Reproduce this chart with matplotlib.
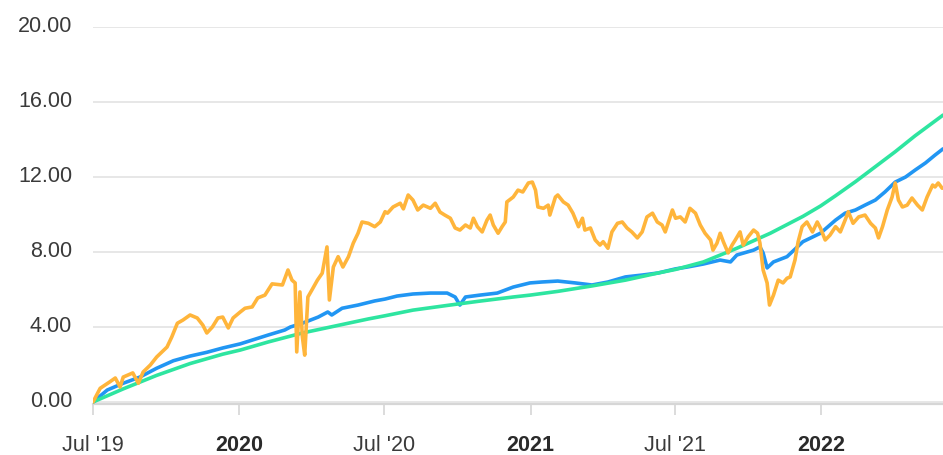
import matplotlib
matplotlib.use("Agg")
import matplotlib.pyplot as plt
import matplotlib.transforms as mtransforms
import pandas as pd

# ---------------- data (days since 2019-07-01, values) ----------------
start = pd.Timestamp("2019-07-01")

orange_days = [0, 9, 21, 28, 34, 38, 50, 57, 63, 72, 80, 93, 99, 106, 113, 122, 131, 138, 143, 150,
               157, 163, 170, 176, 185, 191, 200, 207, 216, 225, 238, 245, 250, 254, 256, 260, 263, 266,
               270, 275, 282, 288, 294, 297, 302, 308, 314, 321, 327, 333, 338, 346, 354, 361, 367, 370,
               377, 386, 390, 396, 402, 408, 415, 424, 430, 436, 442, 449, 455, 461, 468, 474, 478, 483,
               489, 495, 499, 503, 509, 514, 518, 520, 528, 534, 540, 547, 552, 556, 559, 566, 572, 574,
               581, 584, 591, 597, 603, 610, 615, 618, 625, 631, 637, 641, 647, 652, 659, 665, 671, 677,
               684, 690, 696, 703, 709, 715, 719, 728, 732, 738, 744, 750, 757, 763, 769, 776, 779, 784,
               788, 792, 798, 803, 807, 813, 817, 823, 830, 835, 838, 842, 847, 850, 855, 861, 867, 872,
               876, 882, 886, 891, 897, 904, 910, 914, 920, 926, 933, 939, 945, 949, 955, 962, 970, 977,
               983, 987, 992, 998, 1004, 1008, 1012, 1017, 1023, 1029, 1036, 1042, 1048, 1055, 1058, 1062,
               1067]
orange_vals = [0.0, 0.73, 1.07, 1.28, 0.8, 1.33, 1.55, 1.0, 1.6, 1.97, 2.4, 2.93, 3.47, 4.2, 4.37, 4.64,
               4.48, 4.1, 3.68, 4.0, 4.48, 4.53, 3.95, 4.48, 4.8, 5.0, 5.07, 5.55, 5.7, 6.3, 6.24, 7.04,
               6.5, 6.35, 2.67, 5.87, 3.5, 2.5, 5.6, 5.97, 6.5, 6.87, 8.27, 5.44, 7.2, 7.75, 7.2, 7.75,
               8.47, 9.0, 9.6, 9.53, 9.35, 9.6, 10.15, 10.07, 10.4, 10.6, 10.3, 11.04, 10.77, 10.24,
               10.5, 10.33, 10.6, 10.13, 9.97, 9.8, 9.28, 9.17, 9.44, 9.28, 9.8, 9.35, 9.07, 9.7, 9.97,
               9.44, 9.0, 9.35, 9.6, 10.67, 10.93, 11.3, 11.2, 11.68, 11.73, 11.3, 10.4, 10.33, 10.5,
               9.97, 10.93, 11.04, 10.67, 10.5, 10.07, 9.35, 9.8, 9.17, 9.28, 8.64, 8.37, 8.55, 8.2,
               9.07, 9.53, 9.6, 9.28, 9.07, 8.75, 9.07, 9.87, 10.07, 9.6, 9.44, 9.07, 10.24, 9.8, 9.87,
               9.6, 10.33, 10.07, 9.44, 9.0, 8.64, 8.1, 8.47, 9.0, 8.55, 7.95, 8.37, 8.64, 9.07, 8.37,
               8.8, 9.17, 9.0, 8.47, 7.04, 6.35, 5.17, 5.7, 6.5, 6.35, 6.6, 6.67, 7.57, 8.55, 9.35, 9.6,
               9.07, 9.6, 9.28, 8.64, 8.9, 9.35, 9.07, 9.7, 10.15, 9.53, 9.87, 9.97, 9.53, 9.28, 8.75,
               9.35, 10.24, 10.93, 11.68, 10.77, 10.4, 10.5, 10.88, 10.5, 10.24, 10.93, 11.57, 11.47,
               11.68, 11.4]

blue_days = [0, 18, 38, 59, 80, 101, 122, 143, 163, 185, 220, 241, 248, 263, 283, 295, 300, 313, 333,
             354, 367, 382, 402, 424, 445, 455, 461, 468, 486, 508, 528, 549, 564, 584, 606, 627, 647,
             669, 690, 710, 732, 747, 767, 788, 801, 809, 830, 838, 842, 847, 855, 872, 885, 892, 914,
             933, 945, 958, 970, 983, 995, 1008, 1021, 1033, 1046, 1058, 1068]
blue_vals = [0.0, 0.64, 1.0, 1.33, 1.8, 2.2, 2.45, 2.65, 2.88, 3.1, 3.57, 3.84, 4.0, 4.2, 4.53, 4.8,
             4.64, 5.0, 5.17, 5.39, 5.49, 5.65, 5.76, 5.81, 5.81, 5.6, 5.17, 5.6, 5.7, 5.81, 6.13, 6.35,
             6.4, 6.45, 6.35, 6.24, 6.4, 6.67, 6.77, 6.88, 7.1, 7.2, 7.36, 7.57, 7.47, 7.84, 8.1, 8.27,
             7.95, 7.15, 7.47, 7.75, 8.27, 8.55, 9.0, 9.7, 10.07, 10.24, 10.5, 10.77, 11.2, 11.73,
             12.0, 12.37, 12.75, 13.17, 13.5]

green_days = [0, 38, 80, 122, 163, 185, 220, 263, 304, 346, 367, 402, 445, 486, 528, 549, 584, 627,
              669, 710, 732, 767, 809, 851, 892, 914, 933, 958, 983, 1008, 1033, 1068]
green_vals = [0.0, 0.7, 1.42, 2.05, 2.55, 2.77, 3.2, 3.68, 4.05, 4.43, 4.6, 4.9, 5.15, 5.38, 5.6,
              5.7, 5.9, 6.19, 6.5, 6.88, 7.07, 7.47, 8.2, 9.0, 9.9, 10.45, 11.0, 11.75, 12.55,
              13.35, 14.2, 15.3]

y_ticks = [0, 4, 8, 12, 16, 20]
x_tick_dates = ["2019-07-01", "2020-01-01", "2020-07-01", "2021-01-01", "2021-07-01", "2022-01-01"]
x_tick_labels = ["Jul '19", "2020", "Jul '20", "2021", "Jul '21", "2022"]
x_tick_bold = [False, True, False, True, False, True]

# ---------------- figure ----------------
plt.rcParams['font.family'] = ['Liberation Sans', 'DejaVu Sans']
W, H = 943, 455
fig = plt.figure(figsize=(W / 100, H / 100), dpi=100)
ax = fig.add_axes([93 / W, (H - 404) / H, (W - 93) / W, (404 - 27) / H])


def to_dates(days):
    return start + pd.to_timedelta(days, unit="D")


lw = 2.6
ax.plot(to_dates(blue_days), blue_vals, color="#2196F3", lw=lw, solid_joinstyle="round",
        solid_capstyle="round", zorder=3)
ax.plot(to_dates(green_days), green_vals, color="#2EE5A0", lw=lw, solid_joinstyle="round",
        solid_capstyle="round", zorder=3)
ax.plot(to_dates(orange_days), orange_vals, color="#FFB53B", lw=lw, solid_joinstyle="round",
        solid_capstyle="round", zorder=4)

ax.set_xlim(start, start + pd.Timedelta(days=1068))
ax.set_ylim(-0.107, 20)

for s in ["left", "right", "top"]:
    ax.spines[s].set_visible(False)
ax.spines["bottom"].set_color("#d6d6d6")
ax.spines["bottom"].set_linewidth(1.6)

ax.set_yticks(y_ticks)
ax.set_yticklabels([f"{v:.2f}" for v in y_ticks])
ax.tick_params(axis="y", length=0, pad=15, labelsize=15.5, labelcolor="#3a3a3a")
ax.yaxis.grid(True, color="#e3e3e3", lw=1.2)
ax.set_axisbelow(True)
offset = mtransforms.ScaledTranslation(0, 3 / 100, fig.dpi_scale_trans)
for lbl in ax.get_yticklabels():
    lbl.set_transform(lbl.get_transform() + offset)

ax.set_xticks(pd.to_datetime(x_tick_dates))
ax.set_xticklabels(x_tick_labels)
ax.tick_params(axis="x", length=8, width=1.2, color="#d6d6d6", pad=14, labelsize=15.5, labelcolor="#3a3a3a")
for lbl, b in zip(ax.get_xticklabels(), x_tick_bold):
    if b:
        lbl.set_fontweight("bold")
        lbl.set_color("#2a2a2a")

fig.savefig("out.png", dpi=100)
